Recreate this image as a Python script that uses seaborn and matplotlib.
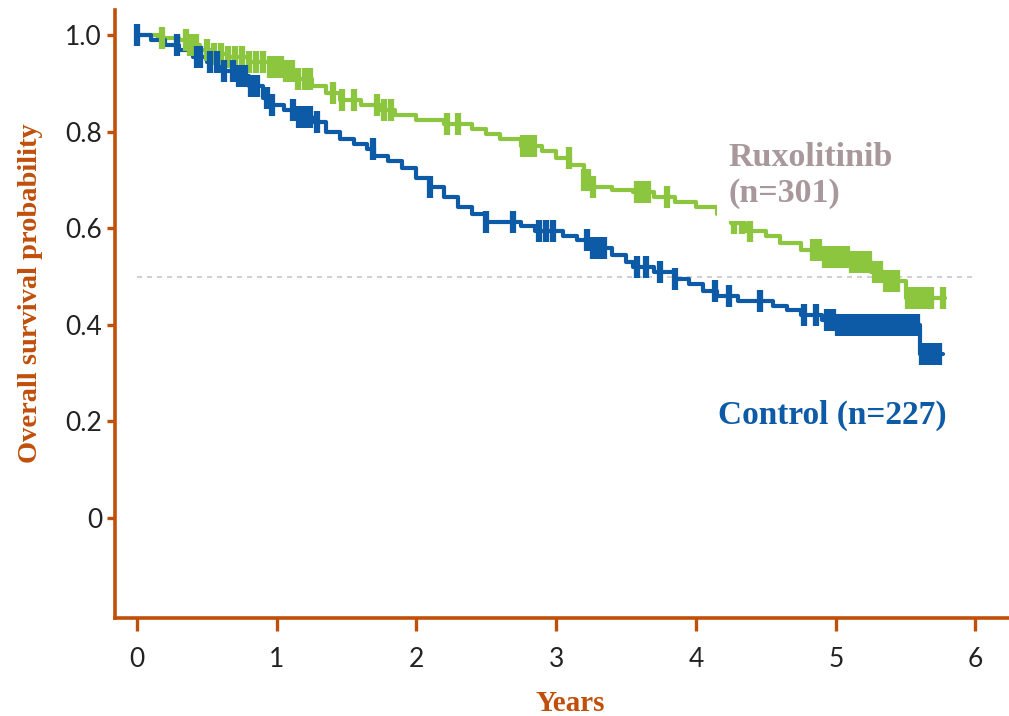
"""Kaplan-Meier overall survival: Ruxolitinib vs Control."""

import matplotlib

matplotlib.use("Agg")
import matplotlib.pyplot as plt
import numpy as np
import pandas as pd
import seaborn as sns

# --- step curves (years, survival probability) ---
RUX_TIME = [0.0, 0.15, 0.3, 0.38, 0.45, 0.55, 0.65, 0.8, 0.95, 1.05, 1.15, 1.25,
            1.35, 1.45, 1.6, 1.75, 1.85, 2.0, 2.2, 2.4, 2.5, 2.6, 2.75, 2.9, 3.0,
            3.1, 3.2, 3.25, 3.4, 3.55, 3.7, 3.85, 4.0, 4.15, 4.25, 4.35, 4.5,
            4.6, 4.75, 4.9, 5.1, 5.25, 5.35, 5.5, 5.78]
RUX_SURV = [1.0, 0.995, 0.99, 0.98, 0.97, 0.96, 0.955, 0.945, 0.935, 0.925,
            0.91, 0.895, 0.88, 0.865, 0.855, 0.845, 0.835, 0.825, 0.815, 0.805,
            0.795, 0.785, 0.77, 0.76, 0.745, 0.73, 0.70, 0.685, 0.68, 0.675,
            0.665, 0.655, 0.645, 0.63, 0.61, 0.595, 0.585, 0.57, 0.555, 0.54,
            0.53, 0.51, 0.49, 0.455, 0.455]
RUX_CENSOR = [0.18, 0.35, 0.38, 0.42, 0.5, 0.55, 0.6, 0.65, 0.7, 0.75, 0.8, 0.85,
              0.9, 0.95, 0.99, 1.03, 1.07, 1.11, 1.15, 1.2, 1.24, 1.4, 1.47,
              1.55, 1.72, 1.77, 1.82, 2.22, 2.3, 2.76, 2.8, 2.84, 3.09, 3.2,
              3.23, 3.26, 3.58, 3.62, 3.66, 3.79, 4.27, 4.33, 4.39, 4.84, 4.88,
              4.92, 4.96, 5.0, 5.04, 5.08, 5.12, 5.16, 5.2, 5.24, 5.28, 5.32,
              5.36, 5.4, 5.44, 5.52, 5.56, 5.6, 5.64, 5.68, 5.77]

CTRL_TIME = [0.0, 0.1, 0.2, 0.3, 0.4, 0.5, 0.6, 0.7, 0.8, 0.9, 0.95, 1.05, 1.15,
             1.25, 1.35, 1.45, 1.55, 1.65, 1.7, 1.8, 1.9, 2.0, 2.1, 2.2, 2.3,
             2.4, 2.5, 2.75, 2.85, 3.05, 3.15, 3.25, 3.4, 3.5, 3.55, 3.7, 3.85,
             3.95, 4.05, 4.15, 4.3, 4.55, 4.65, 4.75, 4.9, 5.0, 5.6, 5.77]
CTRL_SURV = [1.0, 0.99, 0.98, 0.97, 0.955, 0.945, 0.925, 0.915, 0.895, 0.87,
             0.855, 0.845, 0.83, 0.82, 0.8, 0.785, 0.775, 0.765, 0.75, 0.74,
             0.725, 0.705, 0.685, 0.665, 0.645, 0.63, 0.612, 0.605, 0.595,
             0.585, 0.575, 0.56, 0.545, 0.53, 0.52, 0.51, 0.495, 0.485, 0.47,
             0.46, 0.45, 0.44, 0.43, 0.42, 0.41, 0.40, 0.34, 0.34]
CTRL_CENSOR = [0.0, 0.29, 0.43, 0.45, 0.52, 0.57, 0.62, 0.69, 0.73, 0.77, 0.82,
               0.86, 0.93, 0.97, 1.12, 1.16, 1.2, 1.24, 1.29, 1.69, 2.1, 2.5,
               2.69, 2.88, 2.93, 2.98, 3.22, 3.26, 3.3, 3.34, 3.58, 3.64, 3.74,
               3.85, 4.14, 4.24, 4.46, 4.77, 4.86, 4.94, 4.98, 5.02, 5.06, 5.1,
               5.14, 5.18, 5.22, 5.26, 5.3, 5.34, 5.38, 5.42, 5.46, 5.5, 5.54,
               5.58, 5.62, 5.66, 5.7, 5.74]

X_TICKS = [0, 1, 2, 3, 4, 5, 6]
Y_TICKS = [0.0, 0.2, 0.4, 0.6, 0.8, 1.0]
Y_TICKLABELS = ["0", "0.2", "0.4", "0.6", "0.8", "1.0"]

GREEN = "#8cc63f"
BLUE = "#0d5aa7"
AXIS_COLOR = "#c04f0a"
RUX_TEXT = "#a8989b"
SERIF = ["Liberation Serif", "DejaVu Serif"]


def step_value(times, surv, t):
    idx = np.searchsorted(times, t, side="right") - 1
    return np.asarray(surv)[np.clip(idx, 0, len(surv) - 1)]


def main() -> None:
    sns.set_theme(style="white")
    plt.rcParams["font.family"] = ["Lato", "DejaVu Sans"]

    fig = plt.figure(figsize=(10.09, 7.16), dpi=100)
    ax = fig.add_axes([0.1135, 0.137, 0.8865, 0.849])

    ax.hlines(0.5, 0, 6, colors="#c8c8c8", linestyles=(0, (3, 3)), lw=1.2, zorder=1)

    for times, surv, cens, color in [
        (RUX_TIME, RUX_SURV, RUX_CENSOR, GREEN),
        (CTRL_TIME, CTRL_SURV, CTRL_CENSOR, BLUE),
    ]:
        df = pd.DataFrame({"t": times, "s": surv})
        sns.lineplot(data=df, x="t", y="s", drawstyle="steps-post", color=color,
                     lw=3, ax=ax, zorder=3, estimator=None, sort=False)
        cy = step_value(times, surv, np.array(cens))
        ax.plot(cens, cy, linestyle="none", marker="|", ms=16, mew=4.5,
                color=color, zorder=4)

    ax.text(4.23, 0.778, "Ruxolitinib\n(n=301)", color=RUX_TEXT, fontsize=24.5,
            family=SERIF, fontweight="bold", va="top", ha="left", linespacing=1.2,
            bbox=dict(facecolor="white", edgecolor="none", pad=8), zorder=5)
    ax.text(4.16, 0.213, "Control (n=227)", color=BLUE, fontsize=24,
            family=SERIF, fontweight="bold", va="center", ha="left", zorder=5)

    ax.set_xlim(-0.16, 6.24)
    ax.set_ylim(-0.207, 1.052)
    ax.set_xticks(X_TICKS)
    ax.set_yticks(Y_TICKS)
    ax.set_yticklabels(Y_TICKLABELS)
    ax.set_xlabel("Years", color=AXIS_COLOR, fontsize=21, family=SERIF,
                  fontweight="bold", va="center")
    ax.set_ylabel("Overall survival probability", color=AXIS_COLOR, fontsize=20.5,
                  family=SERIF, fontweight="bold", va="center")
    ax.xaxis.set_label_coords(0.509, -0.14)
    ax.yaxis.set_label_coords(-0.094, 0.535)

    sns.despine(ax=ax)
    for side in ("left", "bottom"):
        ax.spines[side].set_color(AXIS_COLOR)
        ax.spines[side].set_linewidth(2.6)
    ax.tick_params(axis="both", colors=AXIS_COLOR, width=2.4, length=7,
                   labelcolor="#222222", labelsize=19, left=True, bottom=True)
    ax.tick_params(axis="x", length=9, pad=12)
    ax.tick_params(axis="y", length=6, pad=3)

    fig.savefig("out.png", dpi=100)
    plt.close(fig)


if __name__ == "__main__":
    main()
